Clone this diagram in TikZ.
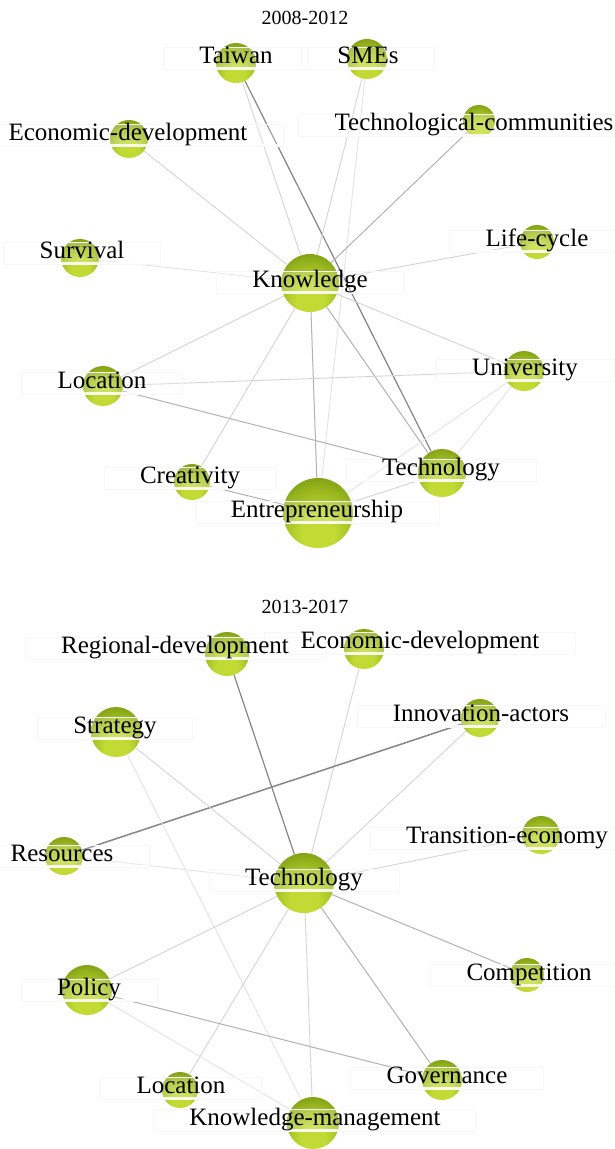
\documentclass[tikz,border=0pt]{standalone}
\usepackage{fontspec}
\setmainfont{Liberation Serif}
\definecolor{ballA}{RGB}{194,218,52}
\definecolor{ballB}{RGB}{158,188,32}
\definecolor{ballC}{RGB}{120,152,18}
\definecolor{ballD}{RGB}{94,122,10}
\pgfdeclareradialshading{greenball}{\pgfpoint{0bp}{-18bp}}{color(0bp)=(ballA); color(12bp)=(ballA); color(26bp)=(ballB); color(38bp)=(ballC); color(48bp)=(ballD); color(72bp)=(ballD)}
\pgfdeclarelayer{bg}
\pgfdeclarelayer{edges}
\pgfdeclarelayer{boxes}
\pgfdeclarelayer{texts}
\pgfsetlayers{bg,edges,main,boxes,texts}
\tikzset{
  kwball/.style={circle, inner sep=0pt, shading=greenball},
  kwtextbase/.style={anchor=base, font=\fontsize{25}{28}\selectfont, text height=15pt, text depth=6pt,
    inner xsep=36pt, inner ysep=0.5pt},
  kwbox/.style={kwtextbase, fill=white, fill opacity=0.22, text opacity=0, draw=black!3,
    path picture={\draw[white, line width=2pt, opacity=0.85]
      ([yshift=1.6pt]path picture bounding box.south west) -- ([yshift=1.6pt]path picture bounding box.south east);}},
  kwtext/.style={kwtextbase},
  kwtitle/.style={anchor=base, font=\fontsize{20}{24}\selectfont},
  ea/.style={draw=black!11, line width=0.9pt},
  eb/.style={draw=black!17, line width=0.9pt},
  ec/.style={draw=black!30, line width=1pt},
  ed/.style={draw=black!48, line width=1.2pt},
}
\newcommand\kwn[7]{%
  \node[kwball, minimum size=#4*2pt] (#1) at (#2,#3) {};
  \begin{pgfonlayer}{boxes}\node[kwbox] (#1-b) at (#5,#6) {#7};\end{pgfonlayer}
  \begin{pgfonlayer}{texts}\node[kwtext] (#1-l) at (#5,#6) {#7};\end{pgfonlayer}
}
\begin{document}
\begin{tikzpicture}[x=1pt,y=-1pt]
\begin{pgfonlayer}{bg}
\fill[white] (0,0) rectangle (614,1149);
\end{pgfonlayer}
\useasboundingbox (0,0) rectangle (614,1149);

% ---------- 2008-2012 ----------
\node[kwtitle] (t1) at (305,24) {2008-2012};
\kwn{aTaiwan}{236}{63}{20}{236}{63}{Taiwan}
\kwn{aSMEs}{367}{59}{20}{368}{63}{SMEs}
\kwn{aEcon}{129}{139}{19}{128}{140}{Economic-development}
\kwn{aTechComm}{479}{121}{16}{474}{130}{Technological-communities}
\kwn{aLife}{537}{242}{17}{537}{246}{Life-cycle}
\kwn{aSurv}{80}{258}{19}{82}{258}{Survival}
\kwn{aKnow}{310}{283}{29}{310}{287}{Knowledge}
\kwn{aLoc}{103}{386}{20}{102}{388}{Location}
\kwn{aUniv}{524}{371}{20}{525}{375}{University}
\kwn{aTech}{442}{473}{24}{441}{475}{Technology}
\kwn{aCreat}{192}{482}{18}{190}{483}{Creativity}
\kwn{aEntr}{318}{513}{35}{317}{517}{Entrepreneurship}

% ---------- 2013-2017 ----------
\node[kwtitle] (t2) at (305,613) {2013-2017};
\kwn{bReg}{227}{654}{22}{175}{653}{Regional-development}
\kwn{bEcon}{364}{649}{20}{420}{648}{Economic-development}
\kwn{bStrat}{116}{732}{25}{115}{733}{Strategy}
\kwn{bInnov}{480}{718}{19}{481}{721}{Innovation-actors}
\kwn{bTrans}{541}{835}{19}{507}{843}{Transition-economy}
\kwn{bRes}{64}{856}{19}{62}{861}{Resources}
\kwn{bTech}{304}{883}{30}{304}{885}{Technology}
\kwn{bPol}{87}{990}{25}{89}{995}{Policy}
\kwn{bComp}{527}{975}{17}{529}{980}{Competition}
\kwn{bGov}{442}{1080}{20}{447}{1083}{Governance}
\kwn{bLoc}{180}{1090}{18}{181}{1093}{Location}
\kwn{bKM}{313}{1123}{26}{315}{1125}{Knowledge-management}

\begin{pgfonlayer}{edges}
% top
\draw[eb] (aTaiwan) -- (aKnow);
\draw[ed] (aTaiwan) -- (aTech);
\draw[eb] (aSMEs) -- (aKnow);
\draw[ea] (aSMEs) -- (aEntr);
\draw[eb] (aEcon) -- (aKnow);
\draw[ec] (aTechComm) -- (aKnow);
\draw[ea] (aSurv) -- (aKnow);
\draw[eb] (aLife) -- (aKnow);
\draw[eb] (aKnow) -- (aLoc);
\draw[eb] (aKnow) -- (aUniv);
\draw[eb] (aKnow) -- (aCreat);
\draw[ec] (aKnow) -- (aEntr);
\draw[ec] (aKnow) -- (aTech);
\draw[eb] (aLoc) -- (aUniv);
\draw[ec] (aLoc) -- (aTech);
\draw[ea] (aUniv) -- (aEntr);
\draw[ea] (aUniv) -- (aTech);
\draw[ec] (aCreat) -- (aEntr);
\draw[eb] (aTech) -- (aEntr);
% bottom
\draw[ed] (bReg) -- (bTech);
\draw[eb] (bEcon) -- (bTech);
\draw[eb] (bInnov) -- (bTech);
\draw[ed, line width=1.5pt] (bInnov) -- (bRes);
\draw[eb] (bStrat) -- (bTech);
\draw[ea] (bStrat) -- (bKM);
\draw[ea] (bRes) -- (bTech);
\draw[eb] (bTrans) -- (bTech);
\draw[eb] (bTech) -- (bPol);
\draw[ec] (bTech) -- (bComp);
\draw[eb] (bTech) -- (bLoc);
\draw[eb] (bTech) -- (bKM);
\draw[ec] (bTech) -- (bGov);
\draw[ec] (bPol) -- (bGov);
\draw[ea] (bPol) -- (bKM);
\end{pgfonlayer}
\end{tikzpicture}
\end{document}
